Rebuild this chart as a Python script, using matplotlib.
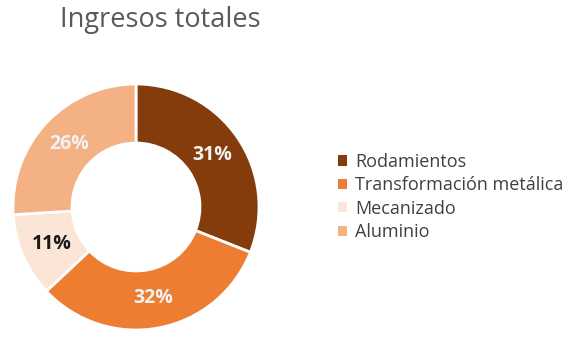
import matplotlib.pyplot as plt
from matplotlib.patches import Patch

categories = ["Rodamientos", "Transformación metálica", "Mecanizado", "Aluminio"]
shares = [31, 32, 11, 26]
colors = ["#843C0C", "#ED7D31", "#FBE5D6", "#F4B183"]
label_colors = ["#F2F2F2", "#F2F2F2", "#1A1A1A", "#F2F2F2"]

plt.rcParams["font.family"] = ["Open Sans", "DejaVu Sans"]

W, H = 581, 342
fig = plt.figure(figsize=(W / 100, H / 100), dpi=100)

ax = fig.add_axes([13 / W, (H - 330) / H, 246 / W, 246 / H])
wedges, texts, autotexts = ax.pie(
    shares, colors=colors, startangle=90, counterclock=False,
    radius=1, autopct="%d%%", pctdistance=0.75,
    wedgeprops=dict(width=0.48, edgecolor="white", linewidth=2),
    textprops=dict(fontsize=14, fontweight="bold"))
for t, c in zip(autotexts, label_colors):
    t.set_color(c)
ax.set_xlim(-1, 1)
ax.set_ylim(-1, 1)

fig.text(60 / W, 1 - 20 / H, "Ingresos totales", fontsize=19.5, color="#595959",
         va="center", ha="left")

handles = [Patch(facecolor=c, edgecolor="none") for c in colors]
fig.legend(handles, categories, loc="center left",
           bbox_to_anchor=(322 / W, 1 - 197 / H), frameon=False,
           fontsize=13, labelcolor="#404040", handlelength=0.5,
           handleheight=0.5, handletextpad=0.45, labelspacing=0.3)

fig.savefig("out.png", dpi=100)
